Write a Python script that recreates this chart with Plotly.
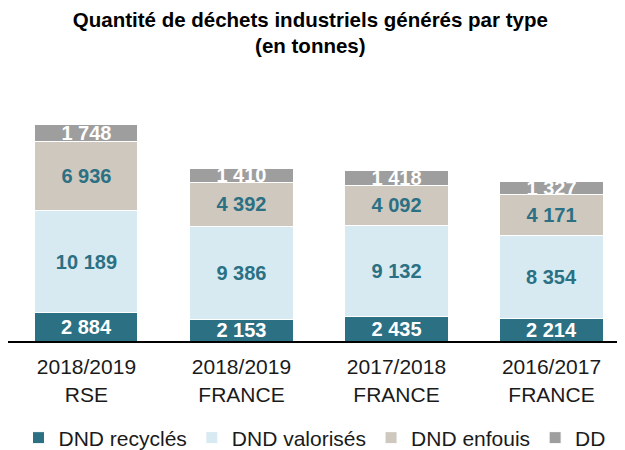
import plotly.graph_objects as go

categories = ["2018/2019<br>RSE", "2018/2019<br>FRANCE", "2017/2018<br>FRANCE", "2016/2017<br>FRANCE"]
dnd_recycles = [2884, 2153, 2435, 2214]
dnd_valorises = [10189, 9386, 9132, 8354]
dnd_enfouis = [6936, 4392, 4092, 4171]
dd = [1748, 1410, 1418, 1327]

series = [
    ("DND recyclés", dnd_recycles, "#2B7083", "white"),
    ("DND valorisés", dnd_valorises, "#D7EAF1", "#2B7083"),
    ("DND enfouis", dnd_enfouis, "#CEC8BF", "#2B7083"),
    ("DD", dd, "#9E9E9E", "white"),
]

def fmt(v):
    return f"{v:,}".replace(",", " ")

fig = go.Figure()
for name, vals, color, tcol in series:
    fig.add_trace(go.Bar(
        name=name, x=list(range(len(categories))), y=vals,
        marker=dict(color=color, line=dict(color="white", width=1)),
        text=[fmt(v) for v in vals], textposition="inside", insidetextanchor="middle",
        textangle=0, constraintext="none",
        textfont=dict(family="Liberation Sans, Arial", size=20, color=tcol, weight="bold"),
        width=0.665,
    ))

fig.update_layout(
    barmode="stack",
    width=617, height=442,
    margin=dict(l=0, r=0, t=94, b=109, autoexpand=False),
    paper_bgcolor="white", plot_bgcolor="white",
    title=dict(text="<b>Quantité de déchets industriels générés par type<br>(en tonnes)</b>",
               x=0.49, xanchor="center", y=0.958, yanchor="middle",
               font=dict(family="Liberation Sans, Arial", size=20.5, color="black")),
    font=dict(family="Liberation Sans, Arial", color="#1a1a1a"),
    uniformtext=dict(minsize=19, mode="show"),
    xaxis=dict(tickmode="array", tickvals=list(range(len(categories))), ticktext=categories,
               range=[-0.506, 3.474], showline=True, linecolor="black", linewidth=2,
               showgrid=False, ticks="", automargin=False, ticklabelstandoff=6,
               tickfont=dict(size=21, color="#1a1a1a")),
    yaxis=dict(range=[0, 24000], visible=False, showgrid=False, automargin=False),
    legend=dict(orientation="h", x=0.017, xanchor="left", y=-0.32, yanchor="top",
                font=dict(size=21, color="#1a1a1a"), itemwidth=30, traceorder="normal"),
    bargap=0.3,
)

fig.write_html("out.html")
